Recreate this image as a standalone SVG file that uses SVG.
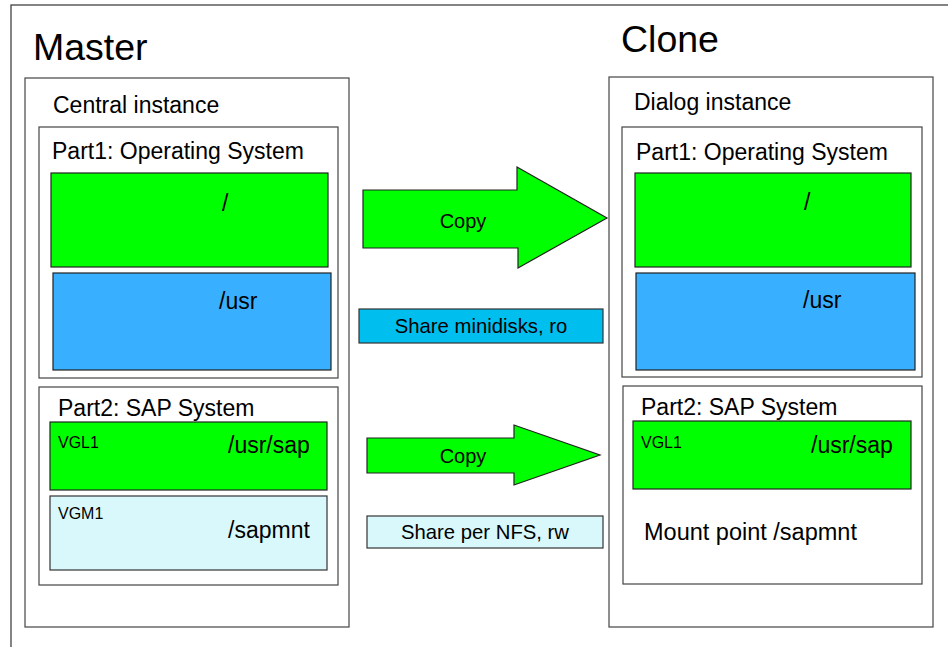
<svg xmlns="http://www.w3.org/2000/svg" width="948" height="647" viewBox="0 0 948 647">
<style>
text{font-family:"Liberation Sans",Arial,Helvetica,sans-serif;fill:#000}
.frame{fill:#fff;stroke:#333;stroke-width:1.2}
.box{fill:#fff;stroke:#444;stroke-width:1.2}
.green{fill:#00ff00;stroke:#222;stroke-width:1.2}
.blue{fill:#38b0ff;stroke:#222;stroke-width:1.2}
.lcyan{fill:#d9f8fc;stroke:#333;stroke-width:1.2}
.sky{fill:#00bfef;stroke:#333;stroke-width:1.2}
.title{font-size:37.5px}
.lbl{font-size:23px}
.inst{font-size:23px}
.small{font-size:16px}
.mid{font-size:20px}
.share{font-size:20.3px}
.arrow{fill:#00ff00;stroke:#222;stroke-width:1.2}
</style>
<rect x="11" y="5" width="950" height="660" class="frame"/>
<text x="33" y="60" class="title">Master</text>
<text x="621" y="52" class="title">Clone</text>

<g id="master">
<rect x="25" y="78" width="324" height="549" class="box"/>
<text x="53" y="113" class="inst">Central instance</text>
<g id="master-part1">
<rect x="39" y="127" width="299" height="251" class="box"/>
<text x="52" y="159" class="lbl">Part1: Operating System</text>
<g id="master-root"><rect x="51" y="173" width="277" height="94" class="green"/><text x="222" y="211" class="lbl">/</text></g>
<g id="master-usr"><rect x="53" y="273" width="278" height="97" class="blue"/><text x="219" y="309" class="lbl">/usr</text></g>
</g>
<g id="master-part2">
<rect x="39" y="387" width="299" height="198" class="box"/>
<text x="58" y="416" class="lbl">Part2: SAP System</text>
<g id="master-usrsap"><rect x="50" y="422" width="277" height="68" class="green"/><text x="58" y="448" class="small">VGL1</text><text x="228" y="453" class="lbl">/usr/sap</text></g>
<g id="master-sapmnt"><rect x="50" y="496" width="277" height="74" class="lcyan"/><text x="58" y="519" class="small">VGM1</text><text x="228" y="538" class="lbl">/sapmnt</text></g>
</g>
</g>

<g id="clone">
<rect x="609" y="77" width="324" height="550" class="box"/>
<text x="634" y="110" class="inst">Dialog instance</text>
<g id="clone-part1">
<rect x="622" y="127" width="300" height="250" class="box"/>
<text x="636" y="160" class="lbl">Part1: Operating System</text>
<g id="clone-root"><rect x="635" y="173" width="276" height="94" class="green"/><text x="804" y="210" class="lbl">/</text></g>
<g id="clone-usr"><rect x="636" y="273" width="279" height="97" class="blue"/><text x="803" y="308" class="lbl">/usr</text></g>
</g>
<g id="clone-part2">
<rect x="623" y="386" width="299" height="198" class="box"/>
<text x="641" y="415" class="lbl">Part2: SAP System</text>
<g id="clone-usrsap"><rect x="633" y="421" width="278" height="68" class="green"/><text x="641" y="448" class="small">VGL1</text><text x="811" y="453" class="lbl">/usr/sap</text></g>
<text x="644" y="540" class="lbl" style="font-size:23.5px">Mount point /sapmnt</text>
</g>
</g>

<g id="connectors">
<g id="copy1"><polygon points="363,190 517,190 517,167 607,218 518,268 518,248 363,248" class="arrow"/><text x="463" y="228" class="mid" text-anchor="middle">Copy</text></g>
<g id="share-ro"><rect x="359" y="309" width="244" height="34" class="sky"/><text x="481" y="333" class="share" text-anchor="middle">Share minidisks, ro</text></g>
<g id="copy2"><polygon points="367,438 514,438 514,425 600,455 514,485 514,473 367,473" class="arrow"/><text x="463" y="463" class="mid" text-anchor="middle">Copy</text></g>
<g id="share-rw"><rect x="367" y="516" width="236" height="32" class="lcyan"/><text x="485" y="539" class="share" text-anchor="middle">Share per NFS, rw</text></g>
</g>
</svg>
